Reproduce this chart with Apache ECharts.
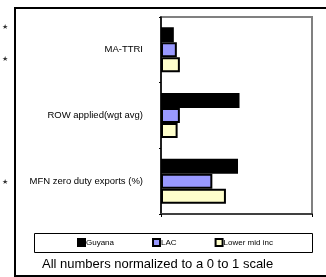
<!DOCTYPE html>
<html>
<head>
<meta charset="utf-8">
<style>
  html, body { margin: 0; padding: 0; background: #fff; }
  #chart { width: 326px; height: 277px; }
</style>
<script src="https://cdn.jsdelivr.net/npm/echarts@6/dist/echarts.min.js"></script>
</head>
<body>
<div id="chart"></div>
<script>
  const categories = ['MA-TTRI', 'ROW applied(wgt avg)', 'MFN zero duty exports (%)']
  const guyana = [0.085, 0.52, 0.51]
  const lac = [0.105, 0.125, 0.34]
  const lowerMid = [0.125, 0.11, 0.43]
  const seriesNames = ['Guyana', 'LAC', 'Lower mid inc']
  const colors = ['#000000', '#9999ff', '#ffffcc']
  const starRows = [28, 60, 183]

  const chart = echarts.init(document.getElementById('chart'))

  const barSeries = [guyana, lac, lowerMid].map((vals, i) => ({
    name: seriesNames[i],
    type: 'bar',
    data: vals,
    barWidth: 15,
    barGap: '0%',
    itemStyle: {
      color: colors[i],
      borderColor: '#000',
      borderWidth: 2
    }
  }))

  chart.setOption({
    animation: false,
    textStyle: { fontFamily: 'Liberation Sans, Arial, sans-serif' },
    grid: {
      left: 161,
      top: 17,
      right: 14,
      bottom: 63,
      show: true,
      borderColor: '#808080',
      borderWidth: 2
    },
    legend: {
      data: seriesNames,
      left: 77,
      top: 238,
      padding: 0,
      itemWidth: 7,
      itemHeight: 7,
      itemGap: 38,
      icon: 'rect',
      textStyle: { fontSize: 8, color: '#000', padding: [0, 0, 0, -4] },
      itemStyle: { borderColor: '#000', borderWidth: 2 }
    },
    xAxis: {
      type: 'value',
      min: 0,
      max: 1,
      interval: 1,
      axisLine: { show: true, lineStyle: { color: '#404040', width: 2 } },
      axisTick: { show: true, length: 3, lineStyle: { color: '#000' } },
      axisLabel: { show: false },
      splitLine: { show: false }
    },
    yAxis: {
      type: 'category',
      data: categories,
      inverse: true,
      axisLine: { lineStyle: { color: '#000', width: 1.5 } },
      axisTick: { show: true, length: 2, lineStyle: { color: '#000' } },
      axisLabel: { fontSize: 9.5, color: '#000', margin: 18 }
    },
    graphic: [
      {
        type: 'rect',
        shape: { x: 15, y: 8, width: 330, height: 268 },
        style: { fill: 'none', stroke: '#000', lineWidth: 2 },
        silent: true
      },
      {
        type: 'rect',
        shape: { x: 34.5, y: 233.5, width: 278, height: 19 },
        style: { fill: 'none', stroke: '#000', lineWidth: 1 },
        silent: true
      },
      {
        type: 'text',
        left: 42,
        top: 258,
        style: {
          text: 'All numbers normalized to a 0 to 1 scale',
          fontSize: 13,
          fill: '#000',
          fontFamily: 'Liberation Sans, Arial, sans-serif'
        }
      }
    ].concat(starRows.map(y => ({
      type: 'text',
      left: 2,
      top: y - 4,
      style: { text: '★', fontSize: 7, fill: '#333' }
    }))),
    series: barSeries
  })
</script>
</body>
</html>
